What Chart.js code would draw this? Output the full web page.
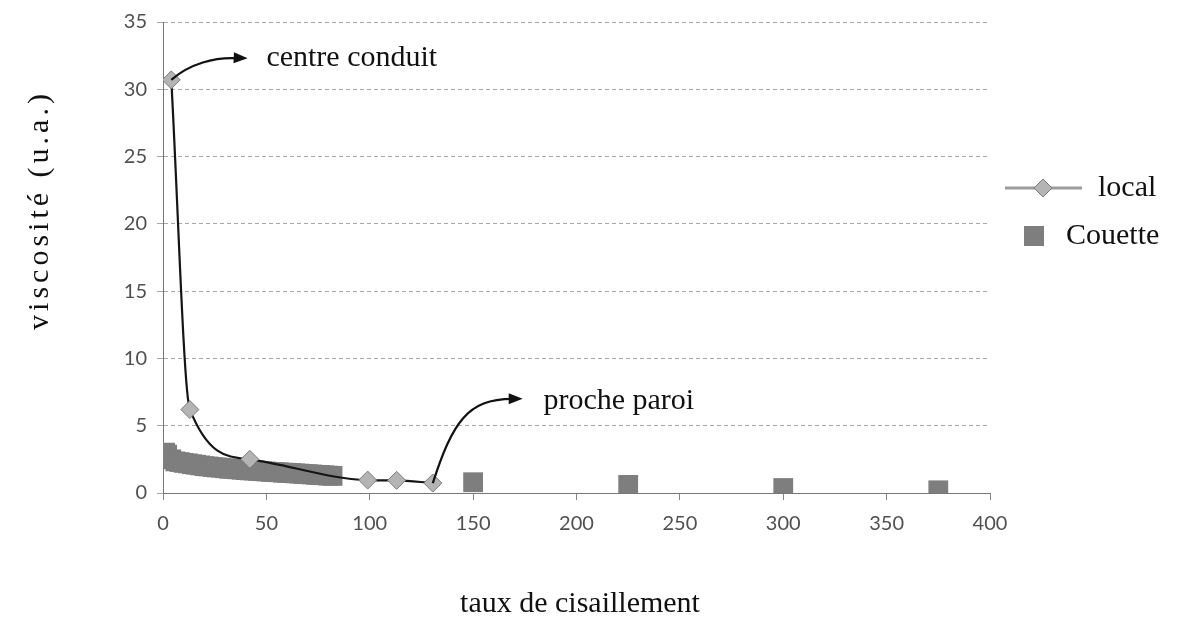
<!DOCTYPE html>
<html lang="fr">
<head>
<meta charset="UTF-8">
<title>viscosité</title>
<script src="https://cdn.jsdelivr.net/npm/chart.js"></script>
<style>
  html, body { margin: 0; padding: 0; background: #fff; }
  #wrap { width: 1180px; height: 629px; }
</style>
</head>
<body>
<div id="wrap"><canvas id="chart"></canvas></div>
<script>
// serie "local" (centre conduit -> proche paroi)
const localX = [4, 13, 42, 99, 113, 130.5];
const localY = [30.7, 6.2, 2.5, 0.96, 0.94, 0.74];

// serie "Couette" (rheometre)
const couetteX = [1, 2, 4, 6, 8, 10, 12, 14, 16, 18, 20, 22, 24, 26, 28, 30, 32, 34, 36, 38, 40,
                  42, 44, 46, 48, 50, 52, 54, 56, 58, 60, 62, 64, 66, 68, 70, 72, 74, 76, 78, 80, 82,
                  150, 225, 300, 375];
const couetteY = [3.0, 2.85, 2.5, 2.35, 2.3, 2.24, 2.2, 2.14, 2.1, 2.05, 2.0, 1.97, 1.93, 1.9, 1.88, 1.84, 1.8, 1.79, 1.76, 1.73, 1.7,
                  1.68, 1.67, 1.64, 1.62, 1.6, 1.57, 1.56, 1.54, 1.51, 1.5, 1.48, 1.46, 1.44, 1.41, 1.4, 1.38, 1.35, 1.34, 1.32, 1.29, 1.27,
                  0.8, 0.6, 0.37, 0.2];

const xTicks = [0, 50, 100, 150, 200, 250, 300, 350, 400];
const yTicks = [0, 5, 10, 15, 20, 25, 30, 35];

// annotations (en unites de donnees)
const notes = [
  { text: 'centre conduit', from: [4, 30.7], c1: [13, 31.9], c2: [25, 32.4], to: [39, 32.3], at: [50, 32.3] },
  { text: 'proche paroi', from: [130.5, 0.74], c1: [140, 5.2], c2: [147, 7.0], to: [172, 7.0], at: [184, 6.8] }
];

const serif = '"Liberation Serif", "Times New Roman", serif';
const tickFont = { family: 'Lato, "DejaVu Sans", sans-serif', size: 20 };

const toPts = (xs, ys) => xs.map((x, i) => ({ x: x, y: ys[i] }));

const extras = {
  id: 'extras',
  afterDraw(chart) {
    const ctx = chart.ctx;
    const sx = chart.scales.x, sy = chart.scales.y;
    const px = p => [sx.getPixelForValue(p[0]), sy.getPixelForValue(p[1])];
    ctx.save();

    // arrows + labels
    notes.forEach(n => {
      const a = px(n.from), b = px(n.c1), c = px(n.c2), d = px(n.to);
      ctx.strokeStyle = '#111';
      ctx.lineWidth = 2.2;
      ctx.beginPath();
      ctx.moveTo(a[0], a[1]);
      ctx.bezierCurveTo(b[0], b[1], c[0], c[1], d[0] - 6, d[1]);
      ctx.stroke();
      const ang = Math.atan2(d[1] - c[1], d[0] - c[0]);
      ctx.fillStyle = '#111';
      ctx.beginPath();
      ctx.moveTo(d[0] + 4, d[1]);
      ctx.lineTo(d[0] + 4 - 15 * Math.cos(ang - 0.38), d[1] - 15 * Math.sin(ang - 0.38));
      ctx.lineTo(d[0] + 4 - 15 * Math.cos(ang + 0.38), d[1] - 15 * Math.sin(ang + 0.38));
      ctx.closePath();
      ctx.fill();
      const t = px(n.at);
      ctx.font = '30px ' + serif;
      ctx.textAlign = 'left';
      ctx.textBaseline = 'middle';
      ctx.fillText(n.text, t[0], t[1]);
    });

    // legend
    ctx.strokeStyle = '#9c9c9c';
    ctx.lineWidth = 3;
    ctx.beginPath();
    ctx.moveTo(1005, 188);
    ctx.lineTo(1082, 188);
    ctx.stroke();
    ctx.fillStyle = '#b4b4b4';
    ctx.strokeStyle = '#7a7a7a';
    ctx.lineWidth = 1;
    ctx.beginPath();
    ctx.moveTo(1043, 179); ctx.lineTo(1052, 188); ctx.lineTo(1043, 197); ctx.lineTo(1034, 188);
    ctx.closePath();
    ctx.fill(); ctx.stroke();
    ctx.fillStyle = '#7e7e7e';
    ctx.fillRect(1024, 226, 20, 20);
    ctx.fillStyle = '#111';
    ctx.font = '30px ' + serif;
    ctx.textAlign = 'left';
    ctx.textBaseline = 'middle';
    ctx.fillText('local', 1098, 188);
    ctx.fillText('Couette', 1066, 236);

    // axis titles
    ctx.textAlign = 'center';
    ctx.fillText('taux de cisaillement', 580, 604);
    ctx.translate(40, 210);
    ctx.rotate(-Math.PI / 2);
    ctx.letterSpacing = '4px';
    ctx.fillText('viscosité (u.a.)', 0, 0);
    ctx.restore();
  }
};

new Chart(document.getElementById('chart'), {
  type: 'scatter',
  data: {
    datasets: [
      {
        label: 'local',
        data: toPts(localX, localY),
        showLine: true,
        borderColor: '#151515',
        borderWidth: 2.2,
        cubicInterpolationMode: 'monotone',
        pointStyle: 'rectRot',
        pointRadius: 9,
        pointBackgroundColor: '#b4b4b4',
        pointBorderColor: '#7a7a7a',
        pointBorderWidth: 1
      },
      {
        label: 'Couette',
        data: toPts(couetteX, couetteY),
        showLine: false,
        pointStyle: 'rect',
        pointRadius: 14,
        backgroundColor: '#7e7e7e',
        borderColor: '#7e7e7e',
        borderWidth: 0
      }
    ]
  },
  options: {
    responsive: true,
    maintainAspectRatio: false,
    animation: false,
    layout: { padding: { top: 19, right: 190, left: 0, bottom: 0 } },
    plugins: { legend: { display: false }, tooltip: { enabled: false } },
    scales: {
      x: {
        type: 'linear',
        min: xTicks[0],
        max: xTicks[xTicks.length - 1],
        ticks: { stepSize: xTicks[1] - xTicks[0], font: tickFont, color: '#505050', padding: 12 },
        grid: { drawOnChartArea: false, drawTicks: true, tickLength: 7, color: '#888' },
        border: { color: '#777', dash: [4, 3] },
        afterFit: s => { s.height = 136; }
      },
      y: {
        min: yTicks[0],
        max: yTicks[yTicks.length - 1],
        ticks: { stepSize: yTicks[1] - yTicks[0], font: tickFont, color: '#505050', padding: 10 },
        grid: { color: '#a8a8a8', tickLength: 6, borderDash: [4, 3] },
        border: { color: '#777', dash: [4, 3] },
        afterFit: s => { s.width = 163; }
      }
    }
  },
  plugins: [extras]
});
</script>
</body>
</html>
